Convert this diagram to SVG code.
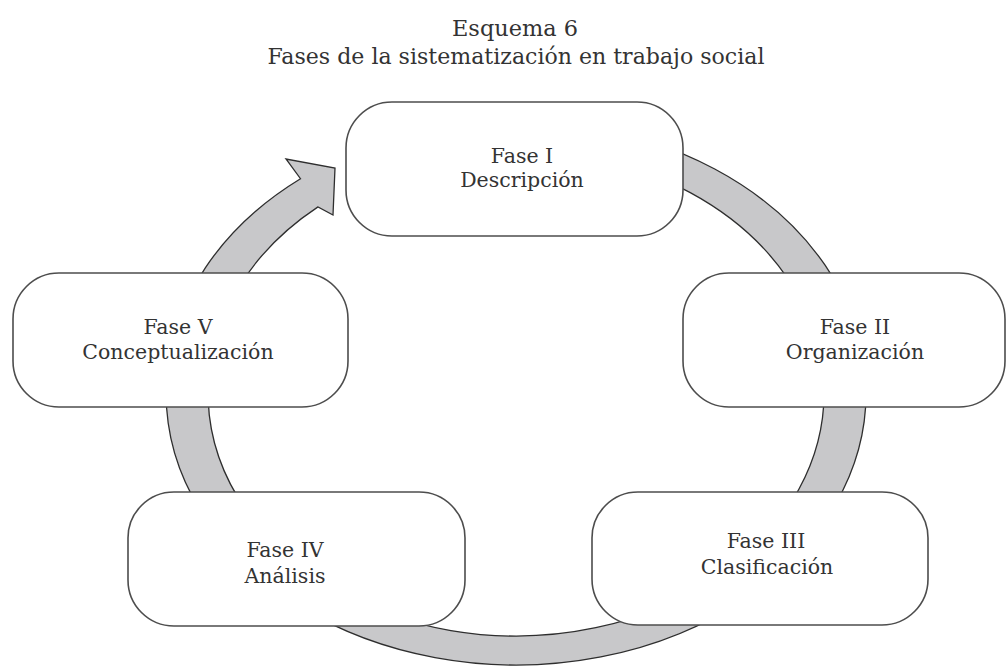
<svg xmlns="http://www.w3.org/2000/svg" width="1008" height="667" viewBox="0 0 1008 667">
  <style>
    .box { fill: #ffffff; stroke: #4d4d4d; stroke-width: 1.6; }
    .lbl { font-family: "DejaVu Serif", "Liberation Serif", serif; font-size: 20.5px; fill: #333333; text-anchor: middle; }
    .ttl { font-family: "DejaVu Serif", "Liberation Serif", serif; font-size: 23px; fill: #333333; text-anchor: middle; }
    .ring { fill: #c8c8ca; stroke: #2e2e2e; stroke-width: 1.3; stroke-linejoin: miter; }
  </style>
  <rect width="1008" height="667" fill="#ffffff"/>
  <g id="title">
    <text class="ttl" x="515" y="36" textLength="126" lengthAdjust="spacingAndGlyphs">Esquema 6</text>
    <text class="ttl" x="516" y="64" textLength="497" lengthAdjust="spacingAndGlyphs">Fases de la sistematización en trabajo social</text>
  </g>
  <g id="connectors">
    <path class="ring" d="M 576.8 125.1 A 350 272 0 1 1 300.5 178.7 L 286 159 L 335 168 L 333 215 L 318 206.9 A 308 243 0 1 0 569.5 153.7 Z"/>
  </g>
  <g id="fase1">
    <rect class="box" x="346" y="102" width="337" height="134" rx="46" ry="46"/>
    <text class="lbl" x="522" y="163">Fase I</text>
    <text class="lbl" x="522" y="187">Descripción</text>
  </g>
  <g id="fase2">
    <rect class="box" x="683" y="273" width="322" height="134" rx="46" ry="46"/>
    <text class="lbl" x="855" y="334">Fase II</text>
    <text class="lbl" x="855" y="359">Organización</text>
  </g>
  <g id="fase3">
    <rect class="box" x="592" y="492" width="336" height="133" rx="46" ry="46"/>
    <text class="lbl" x="766" y="548">Fase III</text>
    <text class="lbl" x="767" y="574">Clasificación</text>
  </g>
  <g id="fase4">
    <rect class="box" x="128" y="492" width="337" height="134" rx="46" ry="46"/>
    <text class="lbl" x="285" y="557">Fase IV</text>
    <text class="lbl" x="285" y="583">Análisis</text>
  </g>
  <g id="fase5">
    <rect class="box" x="13" y="273" width="335" height="134" rx="46" ry="46"/>
    <text class="lbl" x="178" y="334">Fase V</text>
    <text class="lbl" x="178" y="359">Conceptualización</text>
  </g>
</svg>
